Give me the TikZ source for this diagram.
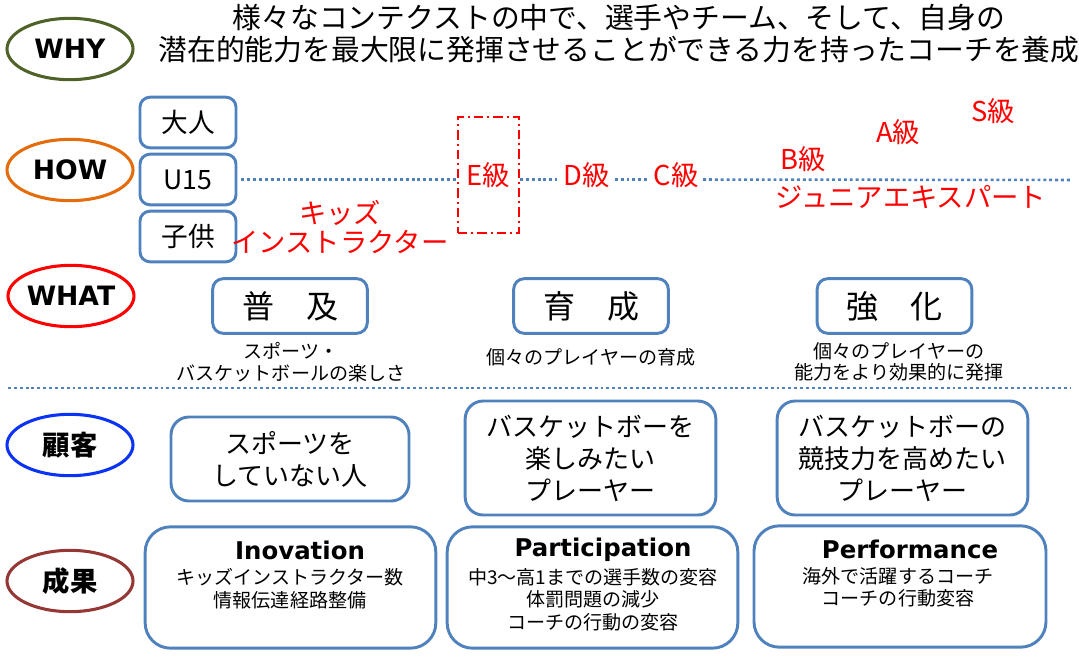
\documentclass[tikz,border=0pt]{standalone}
\usepackage{fontspec}
\setmainfont{Noto Sans CJK JP}
\newfontfamily\labfont{DejaVu Sans}
\usetikzlibrary{shapes.geometric}
\definecolor{boxblue}{HTML}{4F81BD}
\definecolor{whyc}{HTML}{4F6228}
\definecolor{howc}{HTML}{E46C0A}
\definecolor{whatc}{HTML}{FF0000}
\definecolor{custc}{HTML}{0B33F5}
\definecolor{resc}{HTML}{953735}
\definecolor{redtxt}{HTML}{FF0000}
\begin{document}
\begin{tikzpicture}[x=0.75pt,y=-0.75pt,
  ell/.style={ellipse, line width=2.3pt, minimum width=94.5pt, minimum height=46pt, inner sep=0pt, font=\labfont\bfseries\fontsize{20}{20}\selectfont},
  ellj/.style={ell, font=\bfseries\fontsize{20.5}{20.5}\selectfont},
  sbox/.style={draw=boxblue, line width=2.2pt, rounded corners=7.5pt, minimum width=72pt, minimum height=38pt, inner sep=0pt, font=\fontsize{20}{20}\selectfont},
  wbox/.style={draw=boxblue, line width=2.2pt, rounded corners=8pt, minimum width=116pt, minimum height=41pt, inner sep=0pt, font=\fontsize{24}{24}\selectfont},
  cbox/.style={draw=boxblue, line width=2.2pt, rounded corners=13.5pt, align=center, inner sep=0pt, font=\fontsize{19.5}{24}\selectfont},
  rbox/.style={draw=boxblue, line width=2.2pt, rounded corners=19pt, inner sep=0pt},
  redt/.style={text=redtxt, font=\fontsize{20.5}{22}\selectfont, align=center},
  smalltxt/.style={font=\fontsize{14.3}{16}\selectfont, align=center, inner sep=0pt},
  restxt/.style={font=\fontsize{14.3}{17}\selectfont, align=center, inner sep=0pt},
  title/.style={font=\labfont\bfseries\fontsize{18.3}{18.3}\selectfont, inner sep=0pt},
  dots/.style={draw=boxblue, line width=1.9pt, dash pattern=on 2.2pt off 2.2pt}
]
\useasboundingbox (0,0) rectangle (1079,661);

% labels
\node[ell, draw=whyc] (why) at (70,49) {WHY};
\node[ell, draw=howc] (how) at (70,170) {HOW};
\node[ell, draw=whatc] (what) at (71,296) {WHAT};
\node[ellj, draw=custc] (cust) at (70,445) {顧客};
\node[ellj, draw=resc] (res) at (70,581) {成果};

% top text
\node[font=\fontsize{21.6}{24}\selectfont, align=center, inner sep=0pt] (top) at (619,34)
  {様々なコンテクストの中で、選手やチーム、そして、自身の\\潜在的能力を最大限に発揮させることができる力を持ったコーチを養成};

% HOW row
\node[sbox] (adult) at (188,122.5) {大人};
\node[sbox] (u15) at (188,179.5) {U15};
\node[sbox] (child) at (188,236.5) {子供};
\node[redt, inner sep=0pt] (kids) at (340,227) {キッズ\\インストラクター};
\node[redt, draw=red, line width=1.5pt, dash pattern=on 7pt off 3pt on 1.5pt off 3pt, minimum width=45.75pt, minimum height=87pt, inner sep=0pt] (E) at (488.5,175) {E級};
\node[redt] (D) at (587,175) {D級};
\node[redt] (C) at (676,175) {C級};
\node[redt] (B) at (803,159) {B級};
\node[redt] (A) at (898,132) {A級};
\node[redt] (S) at (993,111) {S級};
\node[redt] (jr) at (911,197) {ジュニアエキスパート};
\coordinate (hend) at (1070,180);
\draw[dots] ([xshift=3pt]u15.east) -- (u15.east -| E.west);
\draw[dots] (E.east |- u15.east) -- ([xshift=-2pt]D.west |- u15.east);
\draw[dots] (D.east |- u15.east) -- (C.west |- u15.east);
\draw[dots] (C.east |- u15.east) -- (hend);

% WHAT row
\node[wbox] (fukyu) at (290,306) {普　及};
\node[wbox] (ikusei) at (591,306) {育　成};
\node[wbox] (kyoka) at (894.5,306) {強　化};
\node[smalltxt] (w1) at (291,362) {スポーツ・\\バスケットボールの楽しさ};
\node[smalltxt] (w2) at (591,357) {個々のプレイヤーの育成};
\node[smalltxt] (w3) at (899,362) {個々のプレイヤーの\\能力をより効果的に発揮};

\coordinate (s1) at (8,388);
\coordinate (s2) at (1070,388);
\draw[dots] (s1) -- (s2);

% customer row
\node[cbox, minimum width=178.5pt, minimum height=63pt] (c1) at (290,459) {スポーツを\\していない人};
\node[cbox, minimum width=188pt, minimum height=85.5pt] (c2) at (590.5,458) {バスケットボーを\\楽しみたい\\プレーヤー};
\node[cbox, minimum width=188pt, minimum height=85.5pt] (c3) at (902.5,458) {バスケットボーの\\競技力を高めたい\\プレーヤー};

% results row
\node[rbox, minimum width=218pt, minimum height=91pt] (r1) at (290.5,587.5) {};
\node[rbox, minimum width=218pt, minimum height=91pt] (r2) at (592.5,587.5) {};
\node[rbox, minimum width=219pt, minimum height=91pt] (r3) at (900,586.5) {};
\node[title] (t1) at (300,550) {Inovation};
\node[title] (t2) at (603,550) {Participation};
\node[title] (t3) at (910,549) {Performance};
\node[restxt, anchor=north] (b1) at (290,568) {キッズインストラクター数\\情報伝達経路整備};
\node[restxt, anchor=north] (b2) at (593,568) {中3～高1までの選手数の変容\\体罰問題の減少\\コーチの行動の変容};
\node[restxt, anchor=north] (b3) at (898,567) {海外で活躍するコーチ\\コーチの行動変容};
\end{tikzpicture}
\end{document}
